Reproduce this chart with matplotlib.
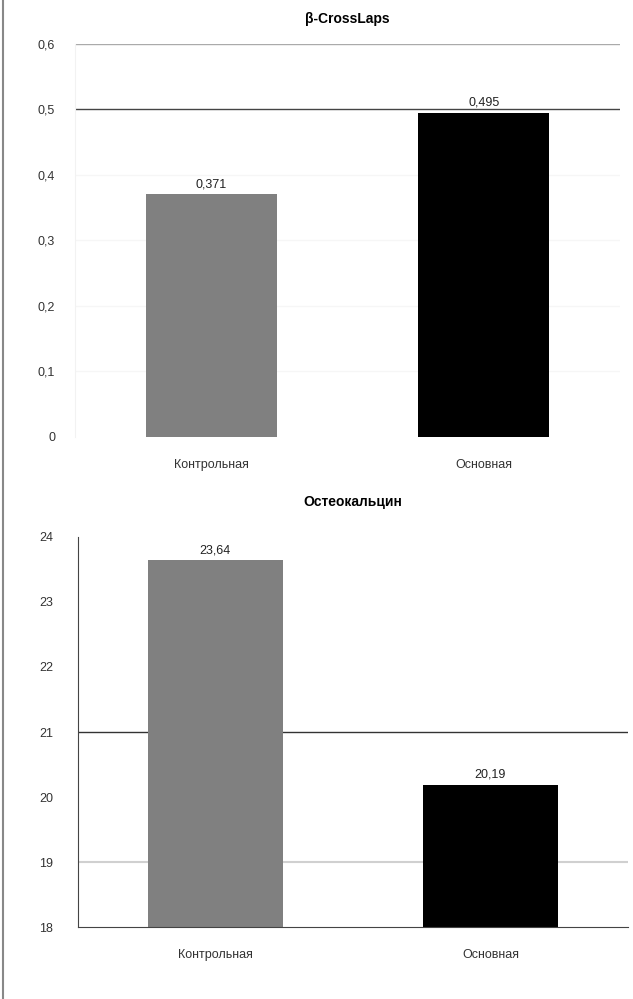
import matplotlib.pyplot as plt
from matplotlib.lines import Line2D

plt.rcParams['font.family'] = ['Liberation Sans', 'DejaVu Sans']

# Data
groups = ['Контрольная', 'Основная']
colors = ['#808080', '#000000']

ctx_title = 'β-CrossLaps'
ctx_values = [0.371, 0.495]
ctx_labels = ['0,371', '0,495']
ctx_ticks = [0, 0.1, 0.2, 0.3, 0.4, 0.5, 0.6]
ctx_ticklabels = ['0', '0,1', '0,2', '0,3', '0,4', '0,5', '0,6']

oc_title = 'Остеокальцин'
oc_values = [23.64, 20.19]
oc_labels = ['23,64', '20,19']
oc_ticks = [18, 19, 20, 21, 22, 23, 24]

fig = plt.figure(figsize=(6.33, 9.99), dpi=100)

# left border line
fig.add_artist(Line2D([0.005, 0.005], [0, 1], transform=fig.transFigure,
                      color='#888888', lw=1.5))

# top chart
ax1 = fig.add_axes([0.118, 0.5626, 0.862, 0.3934])
ax1.bar([0, 1], ctx_values, width=0.48, color=colors)
ax1.set_xlim(-0.5, 1.5)
ax1.set_ylim(0, 0.6)
for y in ctx_ticks:
    if y == 0.5:
        c = '#444444'
    elif y == 0.6:
        c = '#aaaaaa'
    else:
        c = '#f6f6f6'
    if y > 0:
        ax1.axhline(y, color=c, lw=1.0, zorder=0)
for i, v in enumerate(ctx_values):
    ax1.text(i, v + 0.006, ctx_labels[i], ha='center', va='bottom',
             fontsize=9, color='#222222')
ax1.set_yticks(ctx_ticks)
ax1.set_yticklabels(ctx_ticklabels)
ax1.set_xticks([0, 1])
ax1.set_xticklabels(groups)
ax1.tick_params(length=0, labelsize=9, colors='#333333', pad=14)
ax1.tick_params(axis='x', pad=16)
for s in ['top', 'right', 'bottom']:
    ax1.spines[s].set_visible(False)
ax1.spines['left'].set_color('#f2f2f2')
ax1.set_title(ctx_title, fontsize=10, fontweight='bold', pad=15)

# bottom chart
ax2 = fig.add_axes([0.123, 0.072, 0.869, 0.3905])
ax2.bar([0, 1], [v - 18 for v in oc_values], bottom=18, width=0.49, color=colors)
ax2.set_xlim(-0.5, 1.5)
ax2.set_ylim(18, 24)
ax2.axhline(21, color='#333333', lw=1.0, zorder=0)
ax2.axhline(19, color='#d0d0d0', lw=1.5, zorder=0)
for i, v in enumerate(oc_values):
    ax2.text(i, v + 0.06, oc_labels[i], ha='center', va='bottom',
             fontsize=9, color='#222222')
ax2.set_yticks(oc_ticks)
ax2.set_xticks([0, 1])
ax2.set_xticklabels(groups)
ax2.tick_params(length=0, labelsize=9, colors='#333333', pad=18)
ax2.tick_params(axis='x', pad=16)
for s in ['top', 'right']:
    ax2.spines[s].set_visible(False)
ax2.spines['left'].set_color('#444444')
ax2.spines['bottom'].set_color('#444444')
ax2.set_title(oc_title, fontsize=10, fontweight='bold', pad=22)

fig.savefig('out.png', dpi=100)
